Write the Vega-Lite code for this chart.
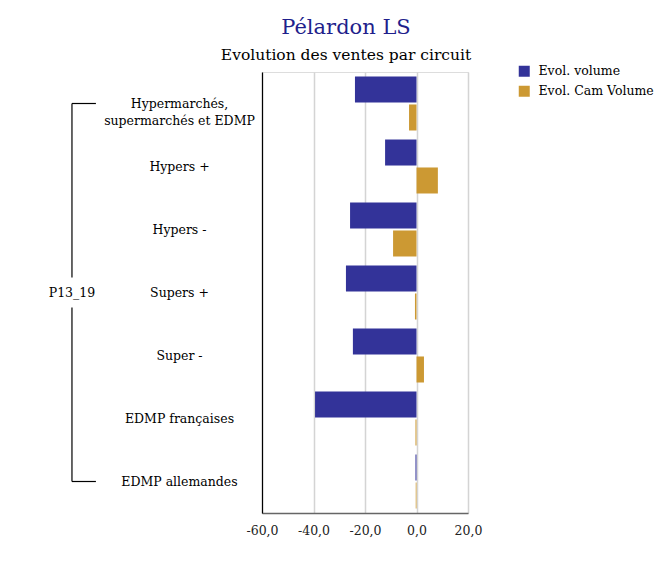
{
  "$schema": "https://vega.github.io/schema/vega-lite/v6.json",
  "autosize": "none",
  "width": 206,
  "height": 441,
  "padding": {"left": 262, "top": 72, "right": 203, "bottom": 55},
  "background": "white",
  "title": {
    "text": "Pélardon LS",
    "subtitle": "Evolution des ventes par circuit",
    "anchor": "middle",
    "frame": "group",
    "dx": -19,
    "offset": 2,
    "font": "DejaVu Serif",
    "fontSize": 21,
    "fontWeight": "normal",
    "color": "#1f1f8c",
    "subtitleFont": "DejaVu Serif",
    "subtitleFontSize": 15.5,
    "subtitleColor": "#000000",
    "subtitlePadding": 10
  },
  "data": {
    "values": [
      {"circuit": "Hypermarchés,|supermarchés et EDMP", "serie": "Evol. volume", "valeur": -23.9},
      {"circuit": "Hypermarchés,|supermarchés et EDMP", "serie": "Evol. Cam Volume", "valeur": -2.9},
      {"circuit": "Hypers +", "serie": "Evol. volume", "valeur": -12.2},
      {"circuit": "Hypers +", "serie": "Evol. Cam Volume", "valeur": 8.3},
      {"circuit": "Hypers -", "serie": "Evol. volume", "valeur": -25.8},
      {"circuit": "Hypers -", "serie": "Evol. Cam Volume", "valeur": -9.1},
      {"circuit": "Supers +", "serie": "Evol. volume", "valeur": -27.4},
      {"circuit": "Supers +", "serie": "Evol. Cam Volume", "valeur": -0.6},
      {"circuit": "Super -", "serie": "Evol. volume", "valeur": -24.7},
      {"circuit": "Super -", "serie": "Evol. Cam Volume", "valeur": 2.9},
      {"circuit": "EDMP françaises", "serie": "Evol. volume", "valeur": -39.4},
      {"circuit": "EDMP françaises", "serie": "Evol. Cam Volume", "valeur": -0.4},
      {"circuit": "EDMP allemandes", "serie": "Evol. volume", "valeur": -0.4},
      {"circuit": "EDMP allemandes", "serie": "Evol. Cam Volume", "valeur": -0.3}
    ]
  },
  "layer": [
    {
      "mark": {"type": "bar"},
      "encoding": {
        "y": {
          "field": "circuit",
          "type": "nominal",
          "sort": null,
          "scale": {"paddingInner": 0.143, "paddingOuter": 0.0715},
          "axis": {
            "title": null,
            "ticks": false,
            "labelAlign": "center",
            "labelPadding": 83,
            "labelFont": "DejaVu Serif",
            "labelFontSize": 12.5,
            "labelColor": "#000000",
            "labelLineHeight": 17,
            "labelExpr": "split(datum.label, '|')",
            "domainColor": "#000000",
            "domainWidth": 1.2,
            "grid": false
          }
        },
        "yOffset": {
          "field": "serie",
          "type": "nominal",
          "sort": ["Evol. volume", "Evol. Cam Volume"],
          "scale": {"paddingInner": 0.07, "paddingOuter": 0}
        },
        "x": {
          "field": "valeur",
          "type": "quantitative",
          "scale": {"domain": [-60, 20], "nice": false, "zero": false},
          "axis": {
            "title": null,
            "values": [-60, -40, -20, 0, 20],
            "ticks": false,
            "labelFlush": false,
            "labelOverlap": false,
            "labelPadding": 11,
            "labelFont": "DejaVu Serif",
            "labelFontSize": 12.5,
            "labelColor": "#222222",
            "labelExpr": "replace(replace(format(datum.value, '.1f'), '.', ','), '−', '-')",
            "domainColor": "#666666",
            "domainWidth": 1.5,
            "grid": true,
            "gridColor": "#d4d4d4",
            "gridWidth": 1.5
          }
        },
        "color": {
          "field": "serie",
          "type": "nominal",
          "sort": ["Evol. volume", "Evol. Cam Volume"],
          "scale": {"domain": ["Evol. volume", "Evol. Cam Volume"], "range": ["#333399", "#cc9933"]},
          "legend": {
            "title": null,
            "orient": "none",
            "legendX": 256,
            "legendY": -7,
            "padding": 0,
            "symbolType": "square",
            "symbolSize": 121,
            "symbolStrokeWidth": 0,
            "rowPadding": 7,
            "labelFont": "DejaVu Serif",
            "labelFontSize": 12.5,
            "labelColor": "#000000",
            "labelOffset": 8
          }
        }
      }
    },
    {
      "data": {"values": [{}]},
      "mark": {"type": "rule", "color": "#000000", "strokeWidth": 1.2, "y2Offset": -15},
      "encoding": {
        "x": {"datum": -133.8},
        "y": {"datum": "Hypermarchés,|supermarchés et EDMP"},
        "y2": {"datum": "Supers +"}
      }
    },
    {
      "data": {"values": [{}]},
      "mark": {"type": "rule", "color": "#000000", "strokeWidth": 1.2, "yOffset": 15},
      "encoding": {
        "x": {"datum": -133.8},
        "y": {"datum": "Supers +"},
        "y2": {"datum": "EDMP allemandes"}
      }
    },
    {
      "data": {"values": [{}]},
      "mark": {"type": "rule", "color": "#000000", "strokeWidth": 1.2},
      "encoding": {
        "x": {"datum": -133.8},
        "x2": {"datum": -124.5},
        "y": {"datum": "Hypermarchés,|supermarchés et EDMP"}
      }
    },
    {
      "data": {"values": [{}]},
      "mark": {"type": "rule", "color": "#000000", "strokeWidth": 1.2},
      "encoding": {
        "x": {"datum": -133.8},
        "x2": {"datum": -124.5},
        "y": {"datum": "EDMP allemandes"}
      }
    },
    {
      "data": {"values": [{"groupe": "P13_19"}]},
      "mark": {"type": "text", "font": "DejaVu Serif", "fontSize": 12.5, "color": "#000000", "align": "center", "baseline": "middle"},
      "encoding": {
        "x": {"datum": -133.8},
        "y": {"datum": "Supers +"},
        "text": {"field": "groupe"}
      }
    }
  ]
}
